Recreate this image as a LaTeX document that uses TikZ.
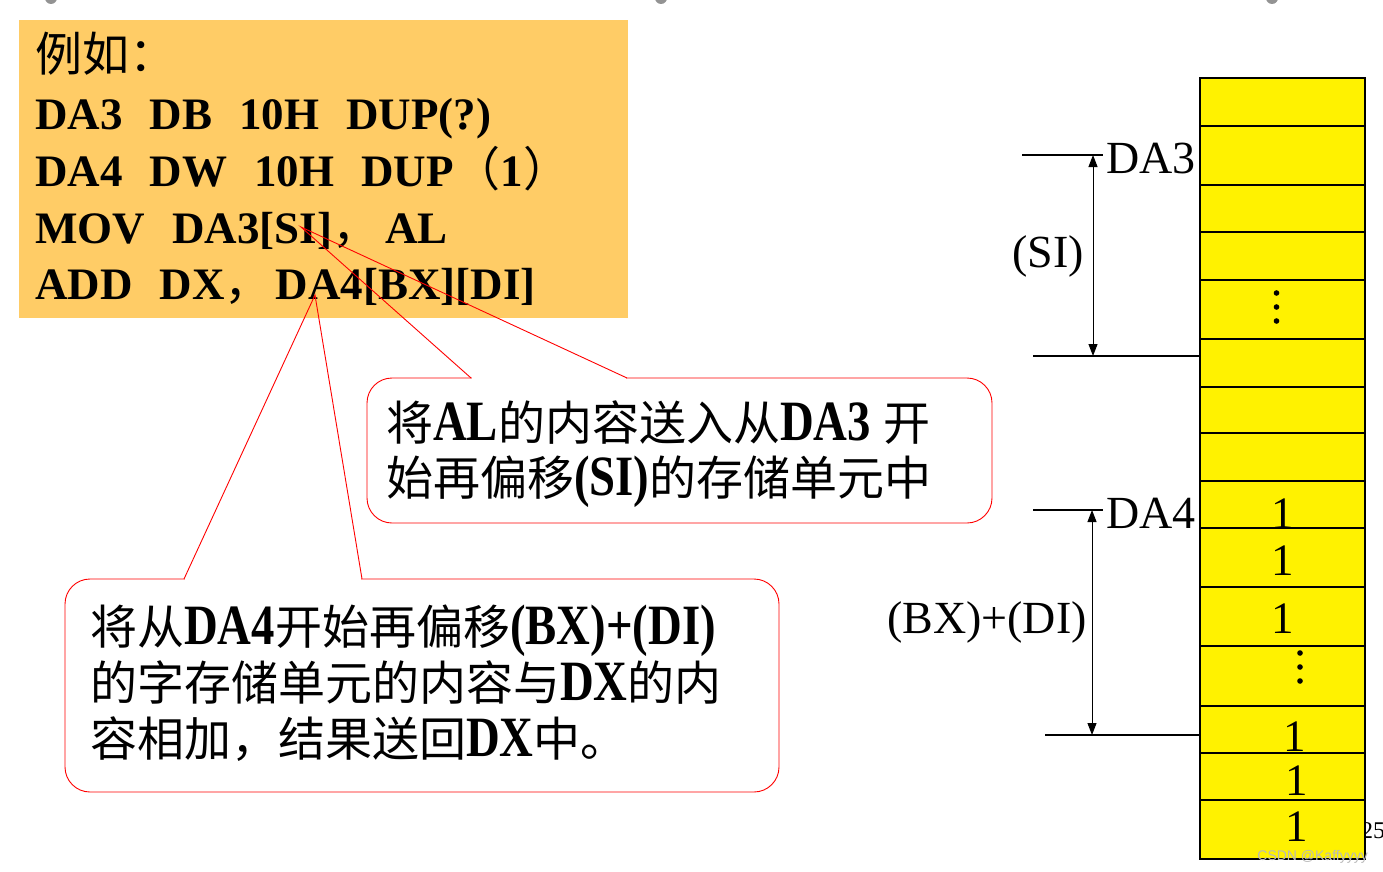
\documentclass[tikz,border=0pt]{standalone}
\usepackage{fontspec}
\setmainfont{Liberation Serif}
\newfontfamily\cjk{Noto Sans CJK SC}
\newfontfamily\calat{Liberation Serif}[FakeStretch=0.82]
\newfontfamily\wmfont{Liberation Sans}
\usetikzlibrary{arrows.meta}
\definecolor{boxorange}{RGB}{255,204,102}
\newcommand\zhtxt[1]{{\cjk\mdseries\fontsize{47}{54}\selectfont #1}}
\newcommand\latb[1]{{\calat\bfseries\fontsize{57}{60}\selectfont #1}}
\newcommand\cgap{\hspace{27pt}}
\tikzset{
  codeline/.style={anchor=base west, inner sep=0pt, font=\fontsize{45}{54}\selectfont\bfseries},
  callline/.style={anchor=base west, inner sep=0pt},
  calloutbox/.style={draw=red, fill=white, line width=0.9pt, rounded corners=25pt},
  callouttail/.style={draw=red, line width=0.9pt},
  memlabel/.style={inner sep=0pt, font=\fontsize{46}{50}\selectfont},
  memone/.style={anchor=base, inner sep=0pt, font=\fontsize{45}{50}\selectfont},
  guide/.style={draw=black, line width=1.2pt},
  dimarrow/.style={draw=black, line width=1pt, {Triangle[length=12pt,width=9pt]}-{Triangle[length=12pt,width=9pt]}},
  cellline/.style={draw=black, line width=1.3pt},
  memdot/.style={fill=black}
}
\begin{document}
\begin{tikzpicture}[x=1pt,y=-1pt]
\useasboundingbox (0,0) rectangle (1383,872);
% top handles
\fill[gray!85] (51,-2) circle[radius=6];
\fill[gray!85] (661,-2) circle[radius=6];
\fill[gray!85] (1272,-2) circle[radius=6];
% code box
\fill[boxorange] (19,20) rectangle (628,318);
\node[codeline] (l1) at (35,72) {\zhtxt{例如：}};
\node[codeline] (l2) at (35,129) {DA3\cgap DB\cgap 10H\cgap DUP(?)};
\node[codeline] (l3) at (35,186) {DA4\cgap DW\cgap 10H\cgap DUP\zhtxt{（}1\zhtxt{）}};
\node[codeline] (l4) at (35,243) {MOV\cgap DA3[SI]\zhtxt{，}\hspace{6pt}AL};
\node[codeline] (l5) at (35,299) {ADD\cgap DX\zhtxt{，}\hspace{4pt}DA4[BX][DI]};
% callout 1
\coordinate (c1a) at (471,378);
\coordinate (c1p) at (301,227);
\coordinate (c1b) at (627,378);
\draw[calloutbox] (367,378) rectangle (992,523);
\draw[white, line width=2.5pt] ([xshift=1pt]c1a) -- ([xshift=-1pt]c1b);
\draw[callouttail] (c1a) -- (c1p) -- (c1b);
\node[callline] (t11) at (386,440) {\zhtxt{将}\latb{AL}\zhtxt{的内容送入从}\latb{DA3}\hspace{12pt}\zhtxt{开}};
\node[callline] (t12) at (386,495) {\zhtxt{始再偏移}\latb{(SI)}\zhtxt{的存储单元中}};
% callout 2
\coordinate (c2a) at (184,579);
\coordinate (c2p) at (315,295);
\coordinate (c2b) at (362,579);
\draw[calloutbox] (65,579) rectangle (779,792);
\draw[white, line width=2.5pt] ([xshift=1pt]c2a) -- ([xshift=-1pt]c2b);
\draw[callouttail] (c2a) -- (c2p) -- (c2b);
\node[callline] (t21) at (90,644) {\zhtxt{将从}\latb{DA4}\zhtxt{开始再偏移}\latb{(BX)+(DI)}};
\node[callline] (t22) at (90,700) {\zhtxt{的字存储单元的内容与}\latb{DX}\zhtxt{的内}};
\node[callline] (t23) at (90,756) {\zhtxt{容相加，结果送回}\latb{DX}\zhtxt{中。}};
% page number (partly hidden)
\node[anchor=base west, inner sep=0pt, font=\fontsize{24}{26}\selectfont] (pg) at (1361,838) {25};
% memory column
\fill[yellow] (1200,78) rectangle (1365,859);
\foreach \yy in {126,185,232,280,339,387,433,481,528,587,646,706,753,800}
  \draw[cellline] (1200,\yy) -- (1365,\yy);
\draw[cellline] (1200,78) rectangle (1365,859);
% dots
\foreach \yy in {293,307,321} \fill[memdot] (1276.5,\yy) circle[radius=2.8];
\foreach \yy in {653,667,681} \fill[memdot] (1300,\yy) circle[radius=2.8];
% ones
\node[memone] (o1) at (1283,528) {1};
\node[memone] (o2) at (1283,575) {1};
\node[memone] (o3) at (1283,633) {1};
\node[memone] (o4) at (1295,751) {1};
\node[memone] (o5) at (1297,795) {1};
\node[memone] (o6) at (1297,841) {1};
% DA3 offset
\coordinate (g1l) at (1022,155);
\coordinate (g1r) at (1103,155);
\coordinate (g2l) at (1033,356);
\coordinate (g2r) at (1200,356);
\coordinate (a1t) at (1093,155);
\coordinate (a1b) at (1093,356);
\draw[guide] (g1l) -- (g1r);
\draw[guide] (g2l) -- (g2r);
\draw[dimarrow] (a1t) -- (a1b);
\node[memlabel, anchor=base west] (da3) at (1106,173) {DA3};
\node[memlabel, anchor=base west] (si) at (1012,267) {(SI)};
% DA4 offset
\coordinate (g3l) at (1033,510);
\coordinate (g3r) at (1103,510);
\coordinate (g4l) at (1045,735);
\coordinate (g4r) at (1200,735);
\coordinate (a2t) at (1092,510);
\coordinate (a2b) at (1092,735);
\draw[guide] (g3l) -- (g3r);
\draw[guide] (g4l) -- (g4r);
\draw[dimarrow] (a2t) -- (a2b);
\node[memlabel, anchor=base west] (da4) at (1106,528) {DA4};
\node[memlabel, anchor=base east] (bxdi) at (1087,633) {(BX)+(DI)};
% watermark
\node[anchor=east, inner sep=0pt, font=\wmfont\fontsize{14}{15}\selectfont, text=gray!55] (wm) at (1368,857) {CSDN @Kaffyyyy};
\end{tikzpicture}
\end{document}
